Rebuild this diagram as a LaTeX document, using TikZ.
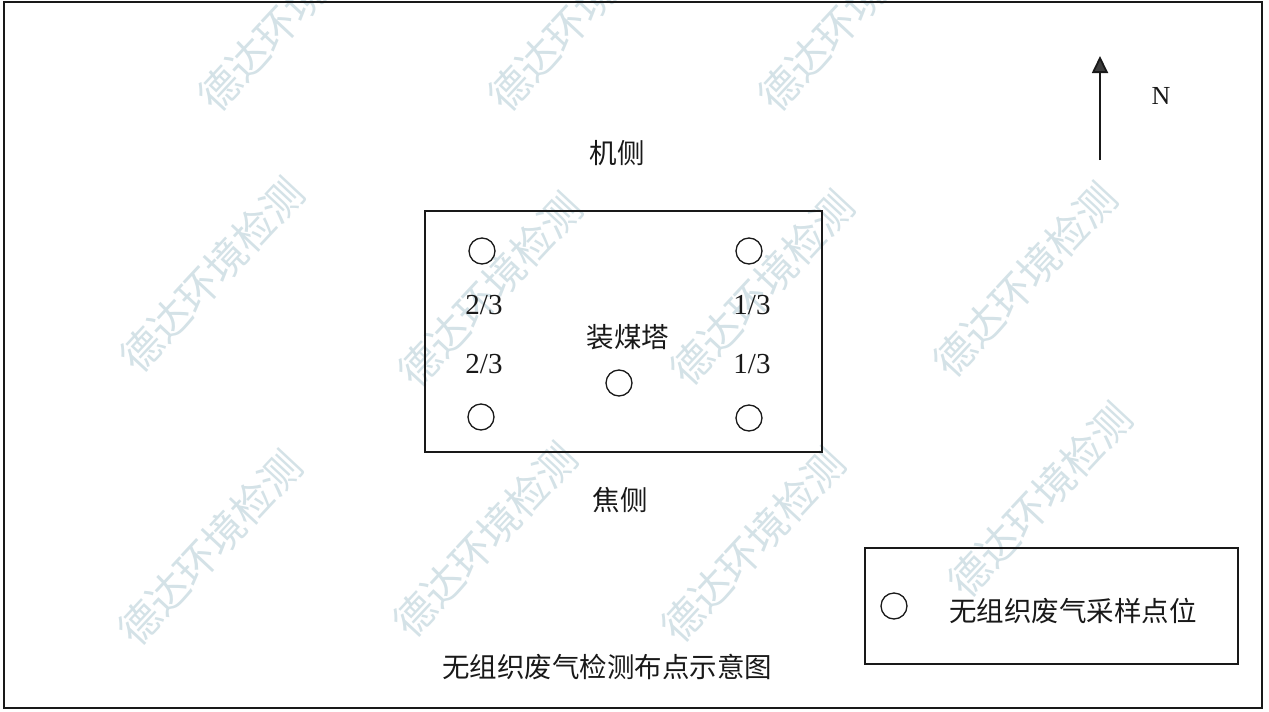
\documentclass[tikz,border=0pt]{standalone}
\usepackage{fontspec}
\setmainfont{Liberation Serif}
\newfontfamily\cjk{Noto Sans CJK SC}
\usetikzlibrary{arrows.meta}
\definecolor{wmcol}{RGB}{212,226,231}
\definecolor{ink}{RGB}{25,25,25}
\tikzset{
  frame/.style={draw=ink,line width=1.8pt},
  site/.style={draw=ink,line width=1.4pt,fill=none},
  spot/.style={circle,draw=ink,line width=1.3pt,minimum size=26pt,inner sep=0pt},
  cn/.style={font=\cjk\fontsize{27.5}{30}\selectfont,text=ink,inner sep=0pt},
  num/.style={font=\fontsize{29}{32}\selectfont,text=ink,inner sep=0pt},
  wm/.style={font=\cjk\fontsize{41}{44}\selectfont,text=wmcol,rotate=47,inner sep=0pt}
}
\begin{document}
\begin{tikzpicture}[x=1pt,y=-1pt]
\useasboundingbox (0,0) rectangle (1269,712);
\fill[white] (0,0) rectangle (1269,712);
% watermarks
\begin{scope}
\clip (0,0) rectangle (1269,712);
\node[wm] (wm1) at (290,14) {德达环境检测};
\node[wm] (wm2) at (580,14) {德达环境检测};
\node[wm] (wm3) at (850,14) {德达环境检测};
\node[wm] (wm4) at (212,275) {德达环境检测};
\node[wm] (wm5) at (490,290) {德达环境检测};
\node[wm] (wm6) at (762,288) {德达环境检测};
\node[wm] (wm7) at (1025,280) {德达环境检测};
\node[wm] (wm8) at (210,548) {德达环境检测};
\node[wm] (wm9) at (485,540) {德达环境检测};
\node[wm] (wm10) at (753,545) {德达环境检测};
\node[wm] (wm11) at (1040,500) {德达环境检测};
\end{scope}
% outer frame
\draw[frame] (4,2) rectangle (1262,708);
% coal tower site
\draw[site] (425,211) rectangle (822,452);
\node[spot] (p1) at (482,251) {};
\node[spot] (p2) at (749,251) {};
\node[spot] (p3) at (619,383) {};
\node[spot] (p4) at (481,417) {};
\node[spot] (p5) at (749,418) {};
\node[num] (f1) at (484,305) {2/3};
\node[num] (f2) at (484,364) {2/3};
\node[num] (f3) at (752,305) {1/3};
\node[num] (f4) at (752,364) {1/3};
\node[cn] (tower) at (628,337) {装煤塔};
\node[cn] (jice) at (617,153) {机侧};
\node[cn] (jiaoce) at (620,500) {焦侧};
% north arrow
\coordinate (nS) at (1100,160);
\coordinate (nN) at (1100,56);
\draw[ink,line width=1.8pt,-{Triangle[width=16pt,length=17pt,fill=ink!85]}] (nS) -- (nN);
\node[num,font=\fontsize{26}{28}\selectfont] (north) at (1161,96) {N};
% legend
\draw[site] (865,548) rectangle (1238,664);
\node[spot] (lp) at (894,606) {};
\node[cn] (ltext) at (1073,611) {无组织废气采样点位};
% title
\node[cn] (title) at (607,667) {无组织废气检测布点示意图};
\end{tikzpicture}
\end{document}
